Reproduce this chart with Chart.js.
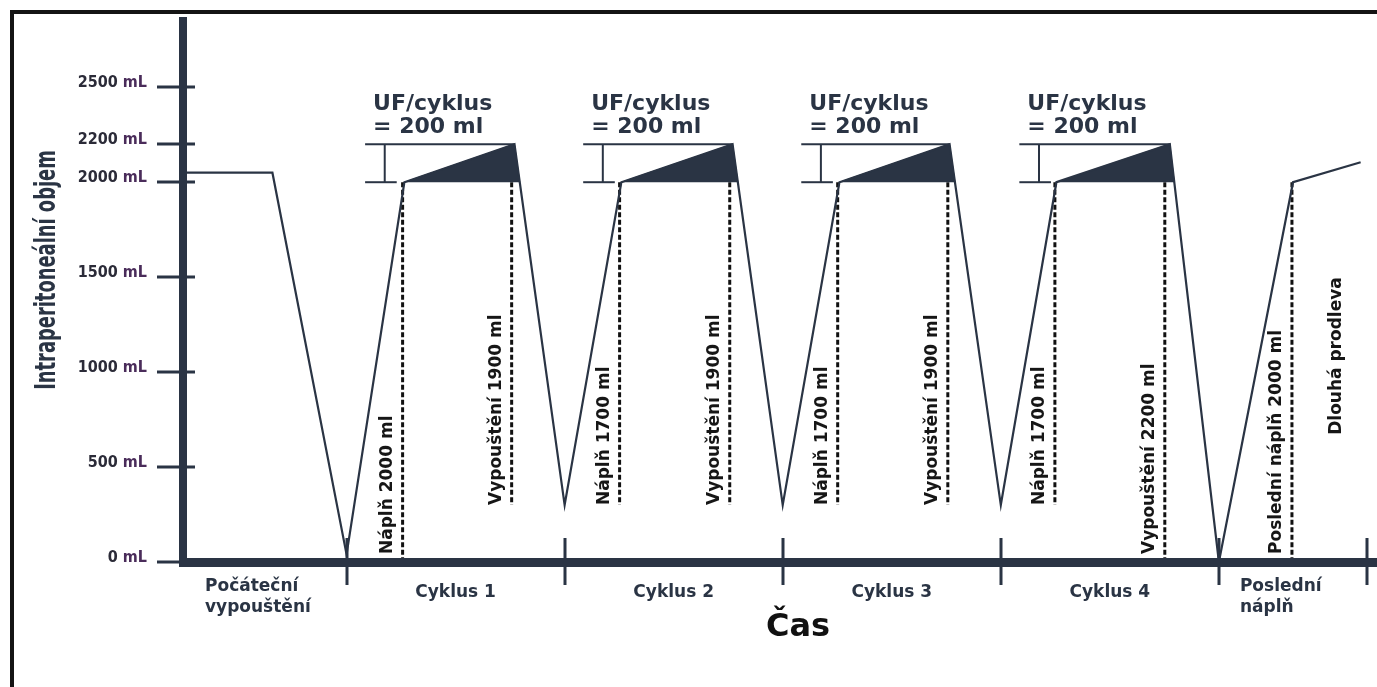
<!DOCTYPE html>
<html lang="cs">
<head>
<meta charset="utf-8">
<title>Intraperitoneální objem</title>
<script src="https://cdn.jsdelivr.net/npm/chart.js@4.4.1/dist/chart.umd.min.js"></script>
<style>
  html, body { margin: 0; padding: 0; background: #fff; }
  #wrap { width: 1377px; height: 687px; position: relative; }
</style>
</head>
<body>
<div id="wrap"><canvas id="pdChart" width="1377" height="687"></canvas></div>
<script>
// time (one cycle = 10 units) and intraperitoneal volume in mL
const timeH    = [-7.5, -3.4, 0, 2.65, 7.7, 10, 12.6, 17.7, 20, 22.6, 27.65, 30, 32.55, 37.75, 40, 43.4, 46.5];
const volumeMl = [2050, 2050, 40, 2000, 2200, 300, 2000, 2200, 300, 2000, 2200, 300, 2000, 2200, 0, 2000, 2105];

// UF per cycle: index of the fill end in the arrays above (peak and minimum follow it)
const ufFillIdx = [3, 6, 9, 12];
const ufBase = 2000;
const ufTop = 2200;
const ufText = ['UF/cyklus', '= 200 ml'];
const bracketStart = [0.85, 10.85, 20.85, 30.85];

// dashed fill / drain markers
const markX    = [2.57, 7.57, 12.52, 17.57, 22.52, 27.57, 32.48, 37.52, 43.35];
const markLow  = [0, 300, 300, 300, 300, 300, 300, 0, 0];
const markText = ['Náplň 2000 ml', 'Vypouštění 1900 ml', 'Náplň 1700 ml', 'Vypouštění 1900 ml',
                  'Náplň 1700 ml', 'Vypouštění 1900 ml', 'Náplň 1700 ml', 'Vypouštění 2200 ml',
                  'Poslední náplň 2000 ml'];
const dwellText = 'Dlouhá prodleva';
const dwellAt = [45.4, 670];

// axes
const xTicks = [0, 10, 20, 30, 40, 46.8];
const yTicks = [0, 500, 1000, 1500, 2000, 2200, 2500];
const phaseLabels = [['Počáteční', 'vypouštění'], ['Cyklus 1'], ['Cyklus 2'], ['Cyklus 3'], ['Cyklus 4'], ['Poslední', 'náplň']];
const xTitle = 'Čas';
const yTitle = 'Intraperitoneální objem';

const INK = '#2a3444';
const FONT = '"DejaVu Sans", sans-serif';
const CONDENSED = '"DejaVu Sans Condensed", "DejaVu Sans", sans-serif';

function seg(x1, y1, x2, y2, extra) {
    return Object.assign({
        data: [{ x: x1, y: y1 }, { x: x2, y: y2 }],
        borderColor: INK,
        borderWidth: 2,
        pointRadius: 0,
        fill: false
    }, extra || {});
}

const datasets = [];

// main volume curve
datasets.push({
    data: timeH.map((t, i) => ({ x: t, y: volumeMl[i] })),
    borderColor: INK,
    borderWidth: 2.2,
    pointRadius: 0,
    tension: 0,
    fill: false
});

// UF triangles + brackets
ufFillIdx.forEach((fi, c) => {
    const xs = timeH[fi], xp = timeH[fi + 1], yp = volumeMl[fi + 1];
    const xm = timeH[fi + 2], ym = volumeMl[fi + 2];
    const cross = xp + (xm - xp) * (yp - ufBase) / (yp - ym);
    datasets.push({
        data: [{ x: xs, y: ufBase }, { x: xp, y: yp }, { x: cross, y: ufBase }],
        borderColor: INK,
        borderWidth: 1,
        backgroundColor: INK,
        pointRadius: 0,
        fill: { value: ufBase }
    });
    const b = bracketStart[c];
    datasets.push(seg(b, ufTop, xp, ufTop));
    datasets.push(seg(b, ufBase, b + 1.45, ufBase));
    datasets.push(seg(b + 0.9, ufBase, b + 0.9, ufTop));
});

// dashed markers
markX.forEach((mx, i) => {
    datasets.push(seg(mx, ufBase, mx, markLow[i], { borderColor: '#111', borderWidth: 3, borderDash: [5, 2.5] }));
});

const overlay = {
    id: 'overlay',
    afterDatasetsDraw(chart) {
        const { ctx, chartArea: a, scales: { x, y } } = chart;
        ctx.save();

        // scan frame
        ctx.fillStyle = '#141414';
        ctx.fillRect(10, 10, 4, 677);
        ctx.fillRect(10, 10, 1367, 4);

        // axes
        ctx.fillStyle = INK;
        ctx.fillRect(a.left - 4, a.top, 8, a.bottom - a.top + 5);
        ctx.fillRect(a.left - 4, a.bottom - 4, a.right - a.left + 4, 9);

        // y ticks and labels
        ctx.textBaseline = 'alphabetic';
        ctx.textAlign = 'right';
        ctx.font = 'bold 16px ' + CONDENSED;
        yTicks.forEach(v => {
            const py = Math.round(y.getPixelForValue(v));
            ctx.fillStyle = INK;
            ctx.fillRect(a.left - 26, py - 1.5, 38, 3);
            const unitW = ctx.measureText('mL').width;
            ctx.fillStyle = '#4a2c5a';
            ctx.fillText('mL', 147, py);
            ctx.fillStyle = '#2b2b38';
            ctx.fillText(String(v), 147 - unitW - 5, py);
        });

        // x ticks
        ctx.fillStyle = INK;
        xTicks.forEach(v => {
            const px = Math.round(x.getPixelForValue(v));
            ctx.fillRect(px - 1.5, a.bottom - 24, 3, 47);
        });

        // phase labels
        ctx.font = 'bold 17px ' + FONT;
        ctx.fillStyle = INK;
        phaseLabels.forEach((lines, i) => {
            if (lines.length === 2) {
                ctx.textAlign = 'left';
                const lx = i === 0 ? a.left + 22 : x.getPixelForValue(xTicks[4]) + 21;
                ctx.fillText(lines[0], lx, 591);
                ctx.fillText(lines[1], lx, 612);
            } else {
                ctx.textAlign = 'center';
                const cx = (x.getPixelForValue(xTicks[i - 1]) + x.getPixelForValue(xTicks[i])) / 2;
                ctx.fillText(lines[0], cx, 597);
            }
        });

        // x title
        ctx.font = 'bold 32px ' + FONT;
        ctx.fillStyle = '#111';
        ctx.textAlign = 'center';
        ctx.fillText(xTitle, 798, 636);

        // y title (squeezed along its length like the condensed original)
        ctx.save();
        ctx.translate(48, 270);
        ctx.rotate(-Math.PI / 2);
        ctx.scale(0.71, 1);
        ctx.font = 'bold 28px ' + CONDENSED;
        ctx.fillStyle = INK;
        ctx.textAlign = 'center';
        ctx.textBaseline = 'middle';
        ctx.fillText(yTitle, 0, 0);
        ctx.restore();

        // UF labels
        ctx.font = 'bold 22px ' + FONT;
        ctx.fillStyle = INK;
        ctx.textAlign = 'left';
        bracketStart.forEach(b => {
            const lx = x.getPixelForValue(b) + 8;
            ctx.fillText(ufText[0], lx, 110);
            ctx.fillText(ufText[1], lx, 133);
        });

        // rotated marker labels
        ctx.font = 'bold 17px ' + FONT;
        ctx.fillStyle = '#161616';
        ctx.textBaseline = 'middle';
        const rot = (txt, px, py) => {
            ctx.save();
            ctx.translate(px, py);
            ctx.rotate(-Math.PI / 2);
            ctx.textAlign = 'left';
            ctx.fillText(txt, 0, 0);
            ctx.restore();
        };
        markX.forEach((mx, i) => {
            const py = Math.min(y.getPixelForValue(markLow[i]), a.bottom - 8);
            rot(markText[i], x.getPixelForValue(mx) - 15, py);
        });
        rot(dwellText, x.getPixelForValue(dwellAt[0]), y.getPixelForValue(dwellAt[1]));

        ctx.restore();
    }
};

Chart.defaults.font.family = FONT;

new Chart(document.getElementById('pdChart').getContext('2d'), {
    type: 'line',
    data: { datasets },
    options: {
        responsive: false,
        animation: false,
        layout: { padding: { left: 183, top: 17, right: 0, bottom: 125 } },
        scales: {
            x: { type: 'linear', min: -7.5, max: 47.25, display: false },
            y: { min: 0, max: 2870, display: false }
        },
        plugins: {
            legend: { display: false },
            tooltip: { enabled: false }
        }
    },
    plugins: [overlay]
});
</script>
</body>
</html>
